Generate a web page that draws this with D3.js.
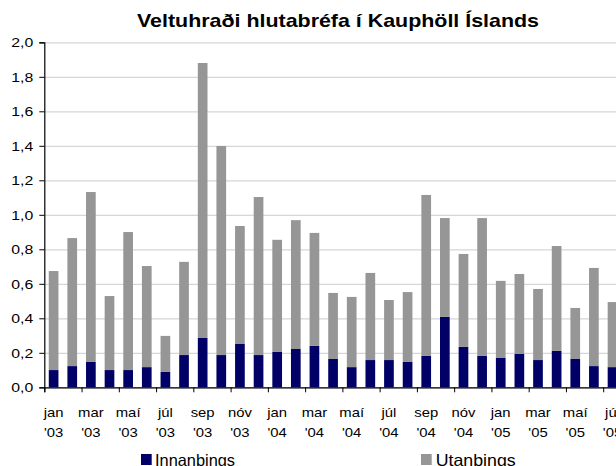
<!DOCTYPE html>
<html>
<head>
<meta charset="utf-8">
<script src="https://cdn.jsdelivr.net/npm/d3@7"></script>
<style>
  html, body { margin: 0; padding: 0; background: #fff; overflow: hidden; }
  svg { display: block; font-family: "Liberation Sans", Arial, sans-serif; }
</style>
</head>
<body>
<svg id="chart" width="616" height="466"></svg>
<script>
// ---- data ----
const months = ["jan","feb","mar","apr","maí","jún","júl","ágú","sep","okt","nóv","des",
                "jan","feb","mar","apr","maí","jún","júl","ágú","sep","okt","nóv","des",
                "jan","feb","mar","apr","maí","jún","júl"];
const years = ["'03","'03","'03","'03","'03","'03","'03","'03","'03","'03","'03","'03",
               "'04","'04","'04","'04","'04","'04","'04","'04","'04","'04","'04","'04",
               "'05","'05","'05","'05","'05","'05","'05"];
const innanthings = [0.100,0.123,0.147,0.100,0.100,0.117,0.089,0.187,0.286,0.187,0.251,0.187,
                     0.205,0.222,0.240,0.164,0.117,0.158,0.158,0.147,0.182,0.408,0.234,0.182,
                     0.170,0.193,0.158,0.211,0.164,0.123,0.117];
const utanthings  = [0.574,0.742,0.985,0.429,0.800,0.586,0.209,0.540,1.594,1.212,0.684,0.916,
                     0.650,0.747,0.655,0.383,0.407,0.505,0.348,0.405,0.933,0.573,0.539,0.799,
                     0.447,0.464,0.412,0.608,0.296,0.569,0.377];
const yTicks = [0,0.2,0.4,0.6,0.8,1.0,1.2,1.4,1.6,1.8,2.0];
const seriesNames = ["Innanþings","Utanþings"];
const seriesColors = ["#000066","#969696"];
const chartTitle = "Veltuhraði hlutabréfa í Kauphöll Íslands";

// ---- layout ----
const svg = d3.select("#chart");
const pL = 44.3, pT = 42.3, pB = 387.3, step = 18.63;
const n = months.length;
const pR = pL + n * step;

const cats = months.map((m, i) => m + " " + years[i]);
const x = d3.scaleBand().domain(cats).range([pL, pR]).paddingInner(0.48).paddingOuter(0.24);
const xi = d3.scaleLinear().domain([0, n]).range([pL, pR]);
const y = d3.scaleLinear().domain([0, 2]).range([pB, pT]);

// widen text horizontally (reference glyphs are wider than they are tall)
function stretch(sel, k) {
  sel.each(function () {
    const w = this.getComputedTextLength();
    d3.select(this).attr("textLength", w * k).attr("lengthAdjust", "spacingAndGlyphs");
  });
}

// gridlines
svg.append("g")
  .attr("transform", `translate(${pL},0)`)
  .call(d3.axisLeft(y).tickValues(yTicks).tickSize(-(640 - pL)).tickFormat(""))
  .call(g => g.select(".domain").remove())
  .call(g => g.selectAll("line").attr("stroke", "#d6d6d6").attr("stroke-width", 1.3));

// stacked bars
const table = cats.map((c, i) => ({ cat: c, innan: innanthings[i], utan: utanthings[i] }));
const stack = d3.stack().keys(["innan", "utan"])(table);
svg.append("g").selectAll("g").data(stack).join("g")
  .attr("fill", (d, i) => seriesColors[i])
  .selectAll("rect").data(d => d).join("rect")
  .attr("x", d => x(d.data.cat))
  .attr("width", x.bandwidth())
  .attr("y", d => y(d[1]))
  .attr("height", d => y(d[0]) - y(d[1]));

// y axis
const yAxis = svg.append("g")
  .attr("transform", `translate(${pL},0)`)
  .call(d3.axisLeft(y).tickValues(yTicks).tickSize(5).tickPadding(6)
        .tickFormat(d => d.toFixed(1).replace(".", ",")));
yAxis.select(".domain").attr("stroke", "#000").attr("stroke-width", 1.2);
yAxis.selectAll("line").attr("stroke", "#000");
yAxis.selectAll("text").attr("font-size", 13.2).attr("fill", "#000")
  .attr("font-family", "'Liberation Sans', Arial, sans-serif");
stretch(yAxis.selectAll("text"), 1.2);

// x axis (ticks at category boundaries, every second)
const tickIdx = d3.range(0, n, 2);
const xAxis = svg.append("g")
  .attr("transform", `translate(0,${pB})`)
  .call(d3.axisBottom(xi).tickValues(tickIdx).tickSize(5).tickFormat(""));
xAxis.select(".domain").attr("stroke", "#000").attr("stroke-width", 1.2);
xAxis.selectAll("line").attr("stroke", "#000");

// x labels
const labG = svg.append("g").attr("font-size", 13.5).attr("text-anchor", "middle").attr("fill", "#000");
labG.selectAll("text.m").data(tickIdx).join("text").attr("class", "m")
  .attr("x", i => x(cats[i]) + x.bandwidth() / 2).attr("y", 416.5).text(i => months[i]);
labG.selectAll("text.yr").data(tickIdx).join("text").attr("class", "yr")
  .attr("x", i => x(cats[i]) + x.bandwidth() / 2).attr("y", 436.5).text(i => years[i]);
stretch(labG.selectAll("text"), 1.1);

// title
svg.append("text").attr("x", 338).attr("y", 27).attr("text-anchor", "middle")
  .attr("font-weight", "bold").attr("font-size", 18.5).attr("fill", "#000")
  .attr("textLength", 402).attr("lengthAdjust", "spacingAndGlyphs")
  .text(chartTitle);

// legend
const legX = [141, 421];
const lg = svg.append("g").selectAll("g").data(seriesNames).join("g")
  .attr("transform", (d, i) => `translate(${legX[i]},0)`);
lg.append("rect").attr("x", 0).attr("y", 454).attr("width", 10.7).attr("height", 11)
  .attr("fill", (d, i) => seriesColors[i]);
const legT = lg.append("text").attr("x", (d, i) => i === 0 ? 14 : 14.7).attr("y", 465.5)
  .attr("font-size", 16.5).attr("fill", "#000").text(d => d);
legT.attr("textLength", 80).attr("lengthAdjust", "spacingAndGlyphs");
</script>
</body>
</html>
